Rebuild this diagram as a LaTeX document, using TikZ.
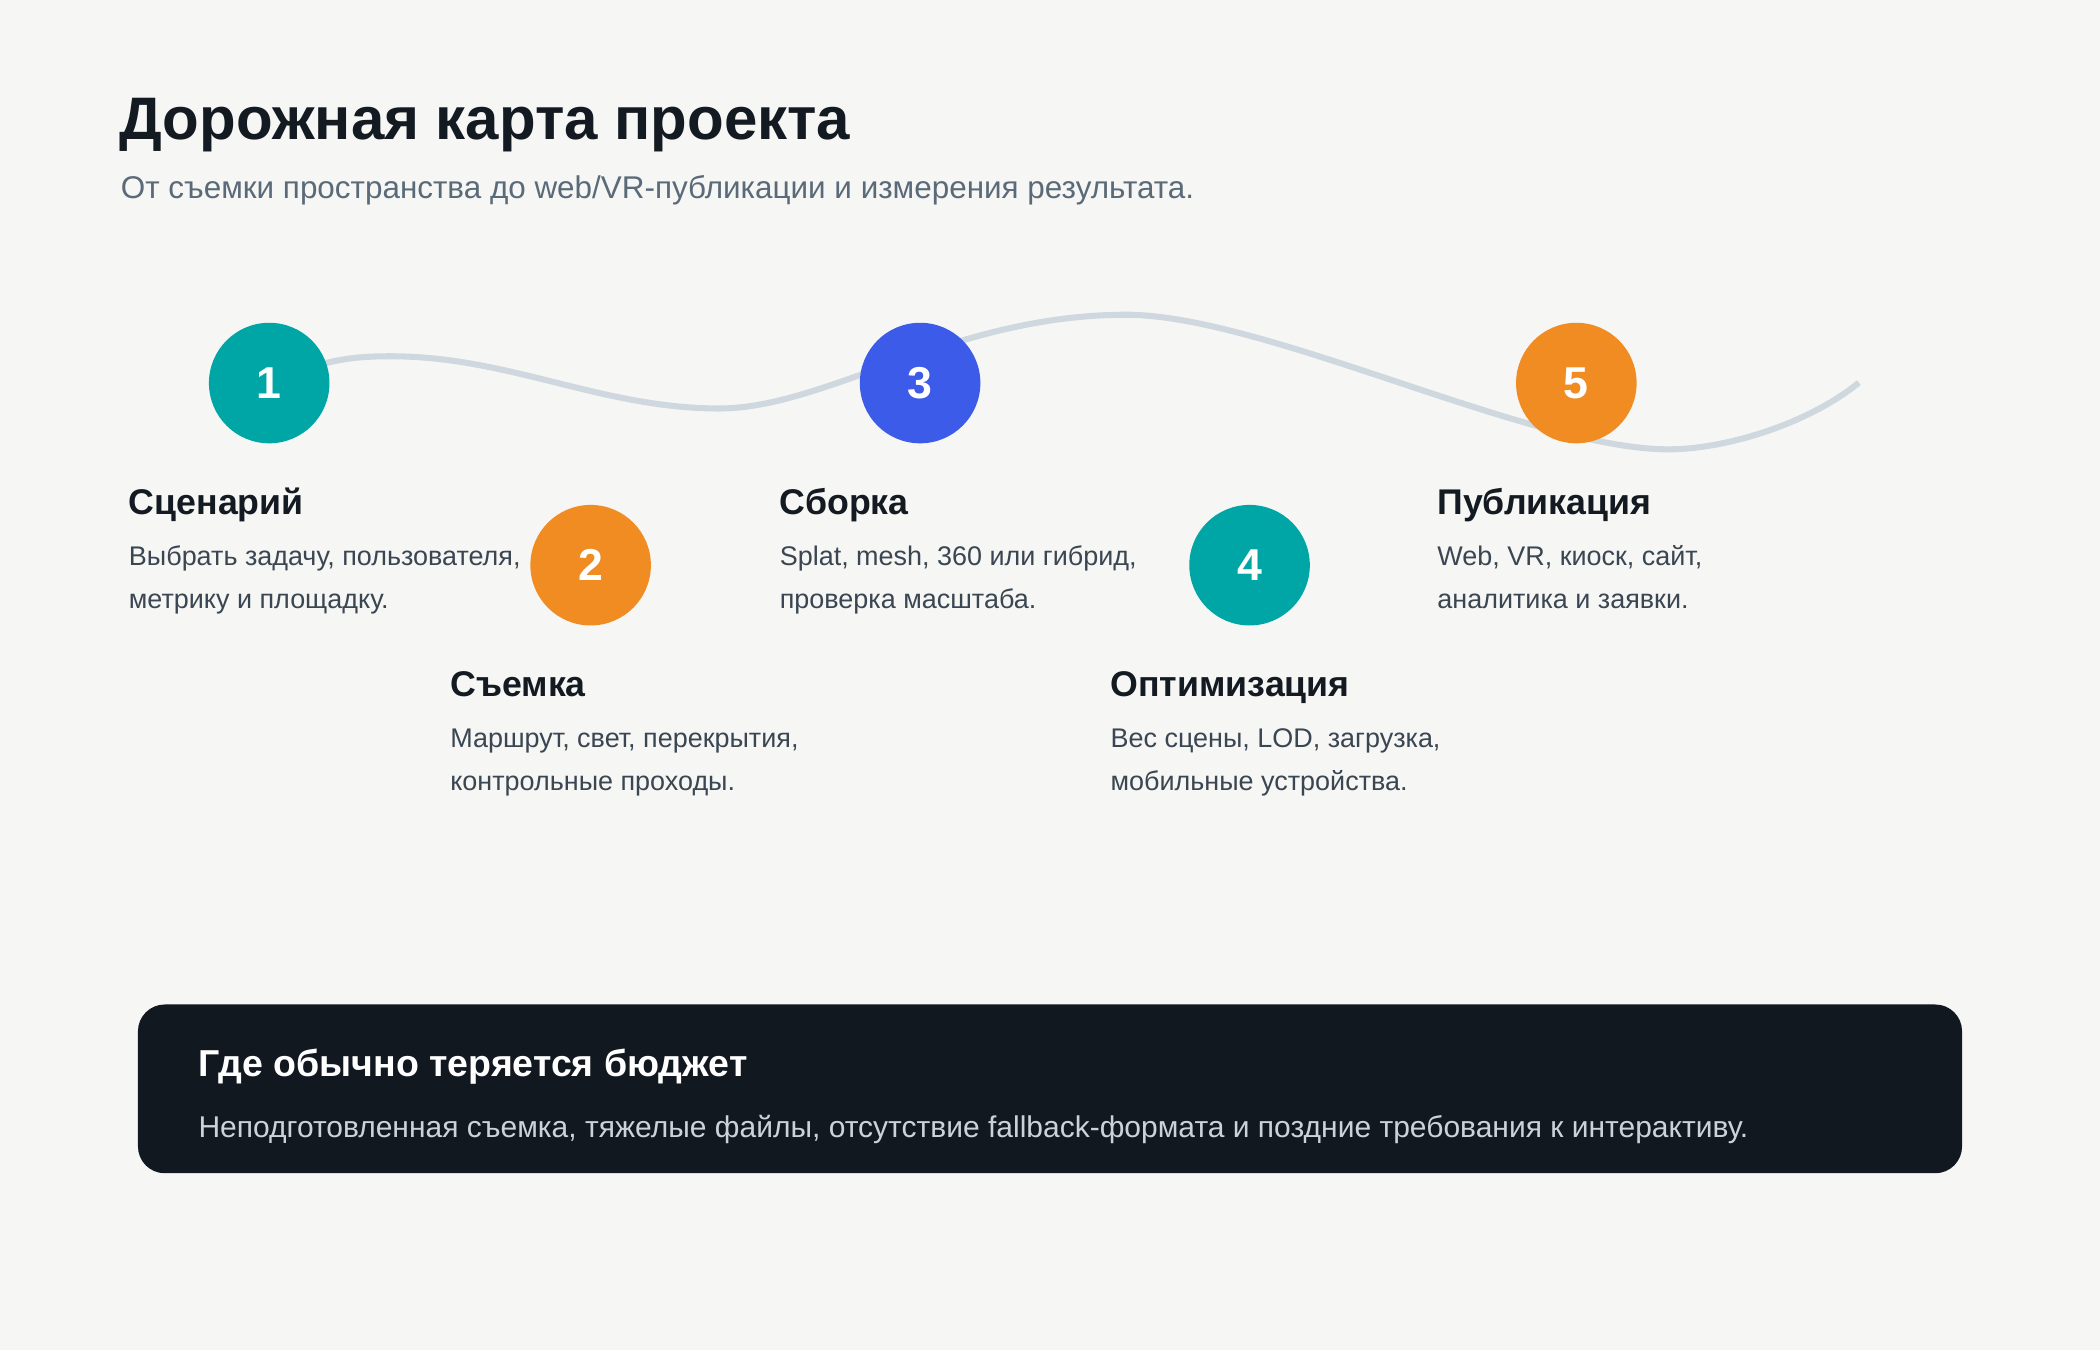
\documentclass[tikz,border=0pt]{standalone}
\usepackage{fontspec}
\setmainfont{Liberation Sans}
\definecolor{paper}{HTML}{F6F6F4}
\definecolor{inkdark}{HTML}{141A21}
\definecolor{inkbody}{HTML}{3A4652}
\definecolor{inksub}{HTML}{5A6A79}
\definecolor{roadgray}{HTML}{CFD8DF}
\definecolor{dotteal}{HTML}{00A6A6}
\definecolor{dotorange}{HTML}{F08C22}
\definecolor{dotblue}{HTML}{3B5BE8}
\definecolor{boxdark}{HTML}{121820}
\definecolor{boxtext}{HTML}{CBD3DA}
\tikzset{
  stepdot/.style={circle, minimum size=67.5pt, inner sep=0pt, text=white,
    font=\fontsize{25}{25}\selectfont\bfseries},
  steptitle/.style={anchor=base west, inner sep=0pt, text=inkdark,
    font=\fontsize{20}{24}\selectfont\bfseries},
  steptext/.style={anchor=base west, inner sep=0pt, text=inkbody,
    font=\fontsize{15.1}{18}\selectfont},
  roadline/.style={draw=roadgray, line width=3.4pt},
}
\begin{document}
\begin{tikzpicture}[x=0.75pt, y=-0.75pt]
  % page
  \fill[paper] (0,0) rectangle (1568,1008);
  \useasboundingbox (0,0) rectangle (1568,1008);

  % heading
  \node[anchor=base west, inner sep=0pt, text=inkdark,
    font=\fontsize{33.6}{40}\selectfont\bfseries] (title) at (89,104) {Дорожная карта проекта};
  \node[anchor=base west, inner sep=0pt, text=inksub,
    font=\fontsize{17.6}{20}\selectfont] (subtitle) at (90,148)
    {От съемки пространства до web/VR-публикации и измерения результата.};

  % road
  \draw[roadline] (201,290) .. controls (235,268) and (265,266) .. (292,266)
    .. controls (380,266) and (449,305) .. (537,305)
    .. controls (617,305) and (711,235) .. (841,235)
    .. controls (944,235) and (1143,335.5) .. (1246,335.5)
    .. controls (1286,335.5) and (1348,318) .. (1388,285.7);

  % milestones
  \foreach \n/\cx/\cy/\col in {1/201/286/dotteal, 2/441/422/dotorange, 3/687/286/dotblue,
      4/933/422/dotteal, 5/1177/286/dotorange}{
    \node[stepdot, fill=\col] (dot\n) at (\cx,\cy) {\n};
  }

  \foreach \n/\tx/\ty/\head/\lineA/\lineB in {
      1/96/384/{Сценарий}/{Выбрать задачу, пользователя,}/{метрику и площадку.},
      2/336/520/{Съемка}/{Маршрут, свет, перекрытия,}/{контрольные проходы.},
      3/582/384/{Сборка}/{Splat, mesh, 360 или гибрид,}/{проверка масштаба.},
      4/829/520/{Оптимизация}/{Вес сцены, LOD, загрузка,}/{мобильные устройства.},
      5/1073/384/{Публикация}/{Web, VR, киоск, сайт,}/{аналитика и заявки.}}{
    \node[steptitle] (head\n) at (\tx,\ty) {\head};
    \node[steptext] (textA\n) at (\tx,\ty+38) {\lineA};
    \node[steptext] (textB\n) at (\tx,\ty+70) {\lineB};
  }

  % budget note
  \fill[boxdark, rounded corners=15pt] (103,750) rectangle (1465,876);
  \node[anchor=base west, inner sep=0pt, text=white,
    font=\fontsize{21}{24}\selectfont\bfseries] (notehead) at (148,804) {Где обычно теряется бюджет};
  \node[anchor=base west, inner sep=0pt, text=boxtext,
    font=\fontsize{16.8}{20}\selectfont] (notetext) at (148,849)
    {Неподготовленная съемка, тяжелые файлы, отсутствие fallback-формата и поздние требования к интерактиву.};
\end{tikzpicture}
\end{document}
